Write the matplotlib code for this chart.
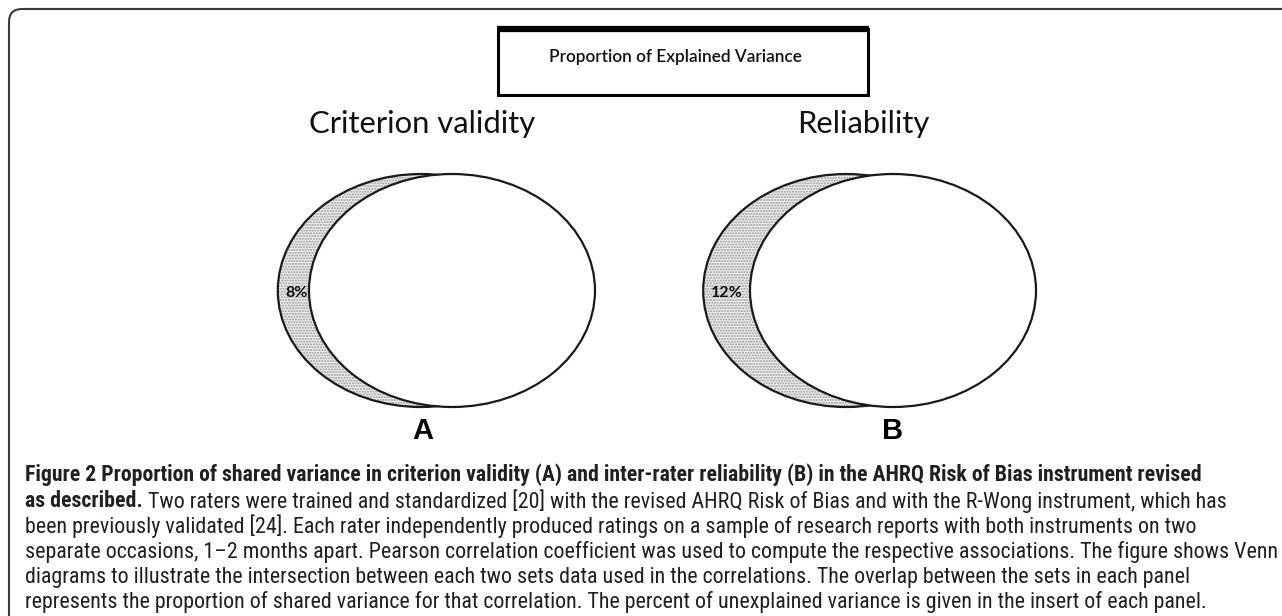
import matplotlib
matplotlib.use("Agg")
import matplotlib.pyplot as plt
from matplotlib.patches import Ellipse, FancyBboxPatch, Rectangle
from matplotlib import font_manager as fm

# ---- data ----
panel_titles = ["Criterion validity", "Reliability"]
panel_letters = ["A", "B"]
unexplained_pct = [8, 12]
box_title = "Proportion of Explained Variance"
caption_bold_1 = "Figure 2 Proportion of shared variance in criterion validity (A) and inter-rater reliability (B) in the AHRQ Risk of Bias instrument revised"
caption_bold_2 = "as described."
caption_lines = [
    " Two raters were trained and standardized [20] with the revised AHRQ Risk of Bias and with the R-Wong instrument, which has",
    "been previously validated [24]. Each rater independently produced ratings on a sample of research reports with both instruments on two",
    "separate occasions, 1\u20132 months apart. Pearson correlation coefficient was used to compute the respective associations. The figure shows Venn",
    "diagrams to illustrate the intersection between each two sets data used in the correlations. The overlap between the sets in each panel",
    "represents the proportion of shared variance for that correlation. The percent of unexplained variance is given in the insert of each panel.",
]

W, H = 1282, 616
fig = plt.figure(figsize=(W / 100, H / 100), dpi=100)
ax = fig.add_axes([0, 0, 1, 1])
ax.set_xlim(0, W)
ax.set_ylim(H, 0)
ax.axis("off")

entries = fm.fontManager.ttflist
names = {f.name for f in entries}
cap_kw = {"family": "DejaVu Sans"}
for cand in ["Roboto Condensed", "Open Sans Condensed", "Liberation Sans Narrow", "Arial Narrow"]:
    if cand in names:
        cap_kw = {"family": cand}
        break
else:
    if any(f.name == "DejaVu Sans" and "condensed" in str(f.stretch).lower() for f in entries) or \
       any(f.name == "DejaVu Sans" and "Condensed" in f.fname for f in entries):
        cap_kw = {"family": "DejaVu Sans", "fontstretch": "condensed"}
title_font = "Lato" if "Lato" in names else "DejaVu Sans"

renderer = fig.canvas.get_renderer()

def fit_size(txt, target, **kw):
    t = ax.text(0, 0, txt, fontsize=10, **kw)
    w = t.get_window_extent(renderer=renderer).width
    t.remove()
    return 10 * target / w

# outer frame (rounded, continues beyond right/bottom)
frame = FancyBboxPatch((9, 9), 1400, 700, boxstyle="round,pad=0,rounding_size=13",
                       fill=False, edgecolor="#3a3a3a", linewidth=1.5)
ax.add_patch(frame)

# title box
ax.add_patch(Rectangle((498, 29), 370, 66, fill=False, edgecolor="black", linewidth=2.2))
ax.plot([497, 869], [29, 29], color="black", linewidth=4.5, solid_capstyle="butt")
bs = fit_size(box_title, 252, family=title_font, weight="semibold")
ax.text(549, 57, box_title, fontsize=bs, family=title_font, weight="semibold",
        ha="left", va="center", color="#111111")

# panels
centers = [452, 893]
ts = fit_size(panel_titles[0], 227, family=title_font)
ew, eh = 286, 233
ecy = 290.5
for i in range(2):
    cx = centers[i]
    shift = 3.9 * unexplained_pct[i]
    ocx = cx - shift
    ax.text(cx - 30, 124, panel_titles[i], fontsize=ts, family=title_font,
            ha="center", va="center", color="#111111")
    # outer (unexplained) ellipse, stippled
    ax.add_patch(Ellipse((ocx, ecy), ew, eh, facecolor="#ececec", edgecolor="#9c9c9c",
                         hatch="......", linewidth=0))
    ax.add_patch(Ellipse((ocx, ecy), ew, eh, fill=False, edgecolor="#1a1a1a", linewidth=1.6))
    # inner ellipse
    ax.add_patch(Ellipse((cx, ecy), ew, eh, facecolor="white", edgecolor="#1a1a1a", linewidth=1.6))
    # percent label
    lx = ocx - ew / 2 + 8
    ax.text(lx, 293, f"{unexplained_pct[i]}%", fontsize=11.5, family=title_font, weight="bold",
            ha="left", va="center", color="#111111")
    ax.text(cx - 29 if i == 0 else cx, 431, panel_letters[i], fontsize=21, family="Liberation Sans",
            weight="bold", ha="center", va="center", color="black")

# caption
x0 = 25
ys = [475, 501, 526, 552, 578, 602]
cs = fit_size(caption_bold_1, 1180, weight="bold", **cap_kw)
ax.text(x0, ys[0], caption_bold_1, fontsize=cs, weight="bold",
        ha="left", va="center", color="#231f20", **cap_kw)
rs = fit_size(caption_lines[-1], 1180, **cap_kw)
tb = ax.text(x0, ys[1], caption_bold_2, fontsize=cs, weight="bold",
             ha="left", va="center", color="#231f20", **cap_kw)
fig.canvas.draw()
bb = tb.get_window_extent(renderer=renderer)
x_after = bb.x1
ax.text(x_after, ys[1], caption_lines[0], fontsize=rs,
        ha="left", va="center", color="#231f20", **cap_kw)
for k in range(1, 5):
    ax.text(x0, ys[k + 1], caption_lines[k], fontsize=rs,
            ha="left", va="center", color="#231f20", **cap_kw)

fig.savefig("out.png", dpi=100)
